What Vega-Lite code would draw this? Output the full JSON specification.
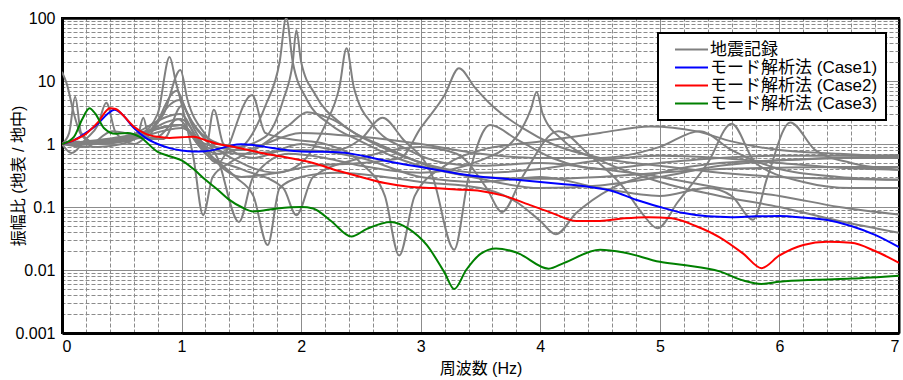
{
"$schema": "https://vega.github.io/schema/vega-lite/v6.json",
"width": 837, "height": 315,
"autosize": {"type": "none"},
"padding": {"left": 62, "top": 18, "right": 4, "bottom": 47},
"config": {
  "view": {"stroke": "#000", "strokeWidth": 2},
  "font": "Liberation Sans, Noto Sans CJK JP",
  "legend": {"strokeWidth": 2, "strokeColor": "#000"},
  "axis": {"labelFont": "Liberation Sans, Noto Sans CJK JP", "titleFont": "Liberation Sans, Noto Sans CJK JP", "labelFontSize": 16, "titleFontSize": 16, "labelColor": "#000", "titleColor": "#000", "titleFontWeight": "normal", "ticks": false, "gridColor": "#8c8c8c", "gridWidth": 1, "gridOpacity": 1}
},
"data": {"values": [
{"series":"地震記録","rec":"G1","freq":0,"amp":1},{"series":"地震記録","rec":"G1","freq":0.1,"amp":1.1},{"series":"地震記録","rec":"G1","freq":0.3,"amp":1.0},{"series":"地震記録","rec":"G1","freq":0.55,"amp":1.2},{"series":"地震記録","rec":"G1","freq":0.8,"amp":1.3},{"series":"地震記録","rec":"G1","freq":0.97,"amp":2.5},{"series":"地震記録","rec":"G1","freq":1.1,"amp":1.3},{"series":"地震記録","rec":"G1","freq":1.3,"amp":0.7},{"series":"地震記録","rec":"G1","freq":1.5,"amp":0.9},{"series":"地震記録","rec":"G1","freq":1.7,"amp":4},{"series":"地震記録","rec":"G1","freq":1.82,"amp":20},{"series":"地震記録","rec":"G1","freq":1.875,"amp":100},{"series":"地震記録","rec":"G1","freq":1.93,"amp":20},{"series":"地震記録","rec":"G1","freq":2.05,"amp":5},{"series":"地震記録","rec":"G1","freq":2.25,"amp":2},{"series":"地震記録","rec":"G1","freq":2.5,"amp":1.1},{"series":"地震記録","rec":"G1","freq":2.8,"amp":0.6},{"series":"地震記録","rec":"G1","freq":3.1,"amp":0.4},{"series":"地震記録","rec":"G1","freq":3.5,"amp":0.3},{"series":"地震記録","rec":"G1","freq":4.0,"amp":0.28},{"series":"地震記録","rec":"G1","freq":4.5,"amp":0.3},{"series":"地震記録","rec":"G1","freq":5.0,"amp":0.35},{"series":"地震記録","rec":"G1","freq":5.5,"amp":0.4},{"series":"地震記録","rec":"G1","freq":6.0,"amp":0.42},{"series":"地震記録","rec":"G1","freq":6.5,"amp":0.43},{"series":"地震記録","rec":"G1","freq":7,"amp":0.43},
{"series":"地震記録","rec":"G2","freq":0,"amp":1},{"series":"地震記録","rec":"G2","freq":0.2,"amp":0.9},{"series":"地震記録","rec":"G2","freq":0.42,"amp":1.6},{"series":"地震記録","rec":"G2","freq":0.7,"amp":1.3},{"series":"地震記録","rec":"G2","freq":0.96,"amp":7},{"series":"地震記録","rec":"G2","freq":1.05,"amp":3},{"series":"地震記録","rec":"G2","freq":1.2,"amp":1.3},{"series":"地震記録","rec":"G2","freq":1.45,"amp":0.9},{"series":"地震記録","rec":"G2","freq":1.7,"amp":1.3},{"series":"地震記録","rec":"G2","freq":1.85,"amp":5},{"series":"地震記録","rec":"G2","freq":1.93,"amp":20},{"series":"地震記録","rec":"G2","freq":1.96,"amp":64},{"series":"地震記録","rec":"G2","freq":2.0,"amp":20},{"series":"地震記録","rec":"G2","freq":2.12,"amp":6},{"series":"地震記録","rec":"G2","freq":2.35,"amp":2},{"series":"地震記録","rec":"G2","freq":2.7,"amp":0.9},{"series":"地震記録","rec":"G2","freq":3.0,"amp":0.5},{"series":"地震記録","rec":"G2","freq":3.5,"amp":0.28},{"series":"地震記録","rec":"G2","freq":4.0,"amp":0.2},{"series":"地震記録","rec":"G2","freq":4.5,"amp":0.22},{"series":"地震記録","rec":"G2","freq":5.0,"amp":0.3},{"series":"地震記録","rec":"G2","freq":5.5,"amp":0.45},{"series":"地震記録","rec":"G2","freq":6.0,"amp":0.55},{"series":"地震記録","rec":"G2","freq":6.5,"amp":0.6},{"series":"地震記録","rec":"G2","freq":7,"amp":0.66},
{"series":"地震記録","rec":"G3","freq":0,"amp":14},{"series":"地震記録","rec":"G3","freq":0.04,"amp":9},{"series":"地震記録","rec":"G3","freq":0.1,"amp":3},{"series":"地震記録","rec":"G3","freq":0.16,"amp":1.4},{"series":"地震記録","rec":"G3","freq":0.25,"amp":1.1},{"series":"地震記録","rec":"G3","freq":0.45,"amp":1.2},{"series":"地震記録","rec":"G3","freq":0.65,"amp":1.4},{"series":"地震記録","rec":"G3","freq":0.8,"amp":3},{"series":"地震記録","rec":"G3","freq":0.9,"amp":24},{"series":"地震記録","rec":"G3","freq":0.95,"amp":10},{"series":"地震記録","rec":"G3","freq":1.02,"amp":3},{"series":"地震記録","rec":"G3","freq":1.1,"amp":0.6},{"series":"地震記録","rec":"G3","freq":1.18,"amp":0.074},{"series":"地震記録","rec":"G3","freq":1.26,"amp":0.3},{"series":"地震記録","rec":"G3","freq":1.4,"amp":0.5},{"series":"地震記録","rec":"G3","freq":1.65,"amp":0.9},{"series":"地震記録","rec":"G3","freq":1.9,"amp":2},{"series":"地震記録","rec":"G3","freq":2.05,"amp":3.2},{"series":"地震記録","rec":"G3","freq":2.25,"amp":2.5},{"series":"地震記録","rec":"G3","freq":2.5,"amp":1.3},{"series":"地震記録","rec":"G3","freq":2.8,"amp":0.7},{"series":"地震記録","rec":"G3","freq":3.1,"amp":0.45},{"series":"地震記録","rec":"G3","freq":3.5,"amp":0.35},{"series":"地震記録","rec":"G3","freq":4.0,"amp":0.4},{"series":"地震記録","rec":"G3","freq":4.5,"amp":0.55},{"series":"地震記録","rec":"G3","freq":5.0,"amp":0.65},{"series":"地震記録","rec":"G3","freq":5.5,"amp":0.6},{"series":"地震記録","rec":"G3","freq":6.0,"amp":0.5},{"series":"地震記録","rec":"G3","freq":6.5,"amp":0.42},{"series":"地震記録","rec":"G3","freq":7,"amp":0.39},
{"series":"地震記録","rec":"G4","freq":0,"amp":1},{"series":"地震記録","rec":"G4","freq":0.06,"amp":1.5},{"series":"地震記録","rec":"G4","freq":0.11,"amp":5.6},{"series":"地震記録","rec":"G4","freq":0.16,"amp":1.5},{"series":"地震記録","rec":"G4","freq":0.3,"amp":1.0},{"series":"地震記録","rec":"G4","freq":0.6,"amp":1.2},{"series":"地震記録","rec":"G4","freq":0.85,"amp":3},{"series":"地震記録","rec":"G4","freq":0.99,"amp":15},{"series":"地震記録","rec":"G4","freq":1.05,"amp":5},{"series":"地震記録","rec":"G4","freq":1.2,"amp":1.4},{"series":"地震記録","rec":"G4","freq":1.5,"amp":0.5},{"series":"地震記録","rec":"G4","freq":1.8,"amp":0.35},{"series":"地震記録","rec":"G4","freq":2.0,"amp":0.5},{"series":"地震記録","rec":"G4","freq":2.2,"amp":2},{"series":"地震記録","rec":"G4","freq":2.32,"amp":8},{"series":"地震記録","rec":"G4","freq":2.38,"amp":33},{"series":"地震記録","rec":"G4","freq":2.44,"amp":8},{"series":"地震記録","rec":"G4","freq":2.6,"amp":2.0},{"series":"地震記録","rec":"G4","freq":2.9,"amp":0.8},{"series":"地震記録","rec":"G4","freq":3.2,"amp":0.5},{"series":"地震記録","rec":"G4","freq":3.5,"amp":0.45},{"series":"地震記録","rec":"G4","freq":4.0,"amp":0.5},{"series":"地震記録","rec":"G4","freq":4.5,"amp":0.4},{"series":"地震記録","rec":"G4","freq":5.0,"amp":0.3},{"series":"地震記録","rec":"G4","freq":5.5,"amp":0.2},{"series":"地震記録","rec":"G4","freq":6.0,"amp":0.15},{"series":"地震記録","rec":"G4","freq":6.5,"amp":0.1},{"series":"地震記録","rec":"G4","freq":7,"amp":0.076},
{"series":"地震記録","rec":"G5","freq":0,"amp":1},{"series":"地震記録","rec":"G5","freq":0.08,"amp":0.72},{"series":"地震記録","rec":"G5","freq":0.2,"amp":1.2},{"series":"地震記録","rec":"G5","freq":0.3,"amp":2},{"series":"地震記録","rec":"G5","freq":0.37,"amp":4.5},{"series":"地震記録","rec":"G5","freq":0.45,"amp":1.5},{"series":"地震記録","rec":"G5","freq":0.6,"amp":1.0},{"series":"地震記録","rec":"G5","freq":0.98,"amp":5},{"series":"地震記録","rec":"G5","freq":1.1,"amp":1.8},{"series":"地震記録","rec":"G5","freq":1.3,"amp":0.5},{"series":"地震記録","rec":"G5","freq":1.5,"amp":0.3},{"series":"地震記録","rec":"G5","freq":1.8,"amp":0.35},{"series":"地震記録","rec":"G5","freq":2.1,"amp":0.45},{"series":"地震記録","rec":"G5","freq":2.5,"amp":0.5},{"series":"地震記録","rec":"G5","freq":2.83,"amp":0.6},{"series":"地震記録","rec":"G5","freq":3.0,"amp":1.8},{"series":"地震記録","rec":"G5","freq":3.2,"amp":6},{"series":"地震記録","rec":"G5","freq":3.32,"amp":16},{"series":"地震記録","rec":"G5","freq":3.45,"amp":8},{"series":"地震記録","rec":"G5","freq":3.6,"amp":4},{"series":"地震記録","rec":"G5","freq":3.85,"amp":1.8},{"series":"地震記録","rec":"G5","freq":4.1,"amp":1.0},{"series":"地震記録","rec":"G5","freq":4.5,"amp":0.6},{"series":"地震記録","rec":"G5","freq":5.0,"amp":0.45},{"series":"地震記録","rec":"G5","freq":5.5,"amp":0.35},{"series":"地震記録","rec":"G5","freq":6.0,"amp":0.3},{"series":"地震記録","rec":"G5","freq":6.5,"amp":0.28},{"series":"地震記録","rec":"G5","freq":7,"amp":0.27},
{"series":"地震記録","rec":"G6","freq":0,"amp":1},{"series":"地震記録","rec":"G6","freq":0.3,"amp":0.9},{"series":"地震記録","rec":"G6","freq":0.5,"amp":1.0},{"series":"地震記録","rec":"G6","freq":0.63,"amp":1.3},{"series":"地震記録","rec":"G6","freq":0.68,"amp":2.6},{"series":"地震記録","rec":"G6","freq":0.73,"amp":1.2},{"series":"地震記録","rec":"G6","freq":0.85,"amp":1.2},{"series":"地震記録","rec":"G6","freq":1.0,"amp":4},{"series":"地震記録","rec":"G6","freq":1.1,"amp":2},{"series":"地震記録","rec":"G6","freq":1.3,"amp":0.6},{"series":"地震記録","rec":"G6","freq":1.48,"amp":0.058},{"series":"地震記録","rec":"G6","freq":1.6,"amp":0.3},{"series":"地震記録","rec":"G6","freq":1.9,"amp":0.7},{"series":"地震記録","rec":"G6","freq":2.2,"amp":0.6},{"series":"地震記録","rec":"G6","freq":2.5,"amp":0.45},{"series":"地震記録","rec":"G6","freq":3.0,"amp":0.35},{"series":"地震記録","rec":"G6","freq":3.5,"amp":0.55},{"series":"地震記録","rec":"G6","freq":3.8,"amp":1.3},{"series":"地震記録","rec":"G6","freq":3.92,"amp":3.5},{"series":"地震記録","rec":"G6","freq":3.97,"amp":6.7},{"series":"地震記録","rec":"G6","freq":4.02,"amp":3},{"series":"地震記録","rec":"G6","freq":4.2,"amp":1.1},{"series":"地震記録","rec":"G6","freq":4.5,"amp":0.55},{"series":"地震記録","rec":"G6","freq":5.0,"amp":0.25},{"series":"地震記録","rec":"G6","freq":5.5,"amp":0.15},{"series":"地震記録","rec":"G6","freq":6.0,"amp":0.1},{"series":"地震記録","rec":"G6","freq":6.5,"amp":0.06},{"series":"地震記録","rec":"G6","freq":7,"amp":0.039},
{"series":"地震記録","rec":"G7","freq":0,"amp":1},{"series":"地震記録","rec":"G7","freq":0.2,"amp":1.0},{"series":"地震記録","rec":"G7","freq":0.5,"amp":1.2},{"series":"地震記録","rec":"G7","freq":0.99,"amp":3},{"series":"地震記録","rec":"G7","freq":1.15,"amp":1.0},{"series":"地震記録","rec":"G7","freq":1.3,"amp":0.5},{"series":"地震記録","rec":"G7","freq":1.59,"amp":6},{"series":"地震記録","rec":"G7","freq":1.7,"amp":1.5},{"series":"地震記録","rec":"G7","freq":1.9,"amp":1.2},{"series":"地震記録","rec":"G7","freq":2.2,"amp":1.0},{"series":"地震記録","rec":"G7","freq":2.5,"amp":0.5},{"series":"地震記録","rec":"G7","freq":2.7,"amp":0.15},{"series":"地震記録","rec":"G7","freq":2.82,"amp":0.017},{"series":"地震記録","rec":"G7","freq":2.95,"amp":0.15},{"series":"地震記録","rec":"G7","freq":3.2,"amp":0.45},{"series":"地震記録","rec":"G7","freq":3.5,"amp":0.8},{"series":"地震記録","rec":"G7","freq":4.0,"amp":1.1},{"series":"地震記録","rec":"G7","freq":4.5,"amp":1.5},{"series":"地震記録","rec":"G7","freq":4.92,"amp":1.9},{"series":"地震記録","rec":"G7","freq":5.3,"amp":1.6},{"series":"地震記録","rec":"G7","freq":5.6,"amp":1.1},{"series":"地震記録","rec":"G7","freq":6.0,"amp":0.8},{"series":"地震記録","rec":"G7","freq":6.5,"amp":0.7},{"series":"地震記録","rec":"G7","freq":7,"amp":0.62},
{"series":"地震記録","rec":"G8","freq":0,"amp":1},{"series":"地震記録","rec":"G8","freq":0.5,"amp":1.3},{"series":"地震記録","rec":"G8","freq":0.99,"amp":2},{"series":"地震記録","rec":"G8","freq":1.2,"amp":0.8},{"series":"地震記録","rec":"G8","freq":1.27,"amp":3.5},{"series":"地震記録","rec":"G8","freq":1.35,"amp":1.0},{"series":"地震記録","rec":"G8","freq":1.6,"amp":0.6},{"series":"地震記録","rec":"G8","freq":2.0,"amp":1.0},{"series":"地震記録","rec":"G8","freq":2.3,"amp":0.8},{"series":"地震記録","rec":"G8","freq":2.5,"amp":1.2},{"series":"地震記録","rec":"G8","freq":2.68,"amp":2.6},{"series":"地震記録","rec":"G8","freq":2.85,"amp":1.2},{"series":"地震記録","rec":"G8","freq":3.1,"amp":0.3},{"series":"地震記録","rec":"G8","freq":3.28,"amp":0.021},{"series":"地震記録","rec":"G8","freq":3.4,"amp":0.3},{"series":"地震記録","rec":"G8","freq":3.58,"amp":2.0},{"series":"地震記録","rec":"G8","freq":3.8,"amp":1.2},{"series":"地震記録","rec":"G8","freq":4.1,"amp":0.6},{"series":"地震記録","rec":"G8","freq":4.5,"amp":0.4},{"series":"地震記録","rec":"G8","freq":5.0,"amp":0.5},{"series":"地震記録","rec":"G8","freq":5.5,"amp":0.6},{"series":"地震記録","rec":"G8","freq":6.0,"amp":0.65},{"series":"地震記録","rec":"G8","freq":6.5,"amp":0.65},{"series":"地震記録","rec":"G8","freq":7,"amp":0.66},
{"series":"地震記録","rec":"G9","freq":0,"amp":1},{"series":"地震記録","rec":"G9","freq":0.3,"amp":1.1},{"series":"地震記録","rec":"G9","freq":0.6,"amp":1.3},{"series":"地震記録","rec":"G9","freq":0.99,"amp":2.5},{"series":"地震記録","rec":"G9","freq":1.2,"amp":0.8},{"series":"地震記録","rec":"G9","freq":1.45,"amp":0.3},{"series":"地震記録","rec":"G9","freq":1.6,"amp":0.15},{"series":"地震記録","rec":"G9","freq":1.72,"amp":0.025},{"series":"地震記録","rec":"G9","freq":1.82,"amp":0.2},{"series":"地震記録","rec":"G9","freq":2.0,"amp":0.3},{"series":"地震記録","rec":"G9","freq":2.3,"amp":0.35},{"series":"地震記録","rec":"G9","freq":2.7,"amp":0.3},{"series":"地震記録","rec":"G9","freq":3.0,"amp":0.25},{"series":"地震記録","rec":"G9","freq":3.5,"amp":0.2},{"series":"地震記録","rec":"G9","freq":3.8,"amp":0.12},{"series":"地震記録","rec":"G9","freq":4.0,"amp":0.06},{"series":"地震記録","rec":"G9","freq":4.13,"amp":0.037},{"series":"地震記録","rec":"G9","freq":4.3,"amp":0.08},{"series":"地震記録","rec":"G9","freq":4.6,"amp":0.2},{"series":"地震記録","rec":"G9","freq":5.0,"amp":0.35},{"series":"地震記録","rec":"G9","freq":5.5,"amp":0.5},{"series":"地震記録","rec":"G9","freq":6.0,"amp":0.55},{"series":"地震記録","rec":"G9","freq":6.5,"amp":0.6},{"series":"地震記録","rec":"G9","freq":7,"amp":0.6},
{"series":"地震記録","rec":"G10","freq":0,"amp":1},{"series":"地震記録","rec":"G10","freq":0.4,"amp":1.1},{"series":"地震記録","rec":"G10","freq":0.99,"amp":2},{"series":"地震記録","rec":"G10","freq":1.2,"amp":0.7},{"series":"地震記録","rec":"G10","freq":1.5,"amp":0.4},{"series":"地震記録","rec":"G10","freq":1.85,"amp":0.2},{"series":"地震記録","rec":"G10","freq":1.96,"amp":0.074},{"series":"地震記録","rec":"G10","freq":2.1,"amp":0.3},{"series":"地震記録","rec":"G10","freq":2.5,"amp":0.6},{"series":"地震記録","rec":"G10","freq":3.0,"amp":0.9},{"series":"地震記録","rec":"G10","freq":3.3,"amp":0.7},{"series":"地震記録","rec":"G10","freq":3.55,"amp":0.2},{"series":"地震記録","rec":"G10","freq":3.68,"amp":0.083},{"series":"地震記録","rec":"G10","freq":3.85,"amp":0.3},{"series":"地震記録","rec":"G10","freq":4.15,"amp":1.6},{"series":"地震記録","rec":"G10","freq":4.4,"amp":0.7},{"series":"地震記録","rec":"G10","freq":4.7,"amp":0.2},{"series":"地震記録","rec":"G10","freq":4.85,"amp":0.08},{"series":"地震記録","rec":"G10","freq":4.98,"amp":0.046},{"series":"地震記録","rec":"G10","freq":5.15,"amp":0.12},{"series":"地震記録","rec":"G10","freq":5.4,"amp":0.5},{"series":"地震記録","rec":"G10","freq":5.6,"amp":2.1},{"series":"地震記録","rec":"G10","freq":5.8,"amp":0.5},{"series":"地震記録","rec":"G10","freq":6.2,"amp":0.25},{"series":"地震記録","rec":"G10","freq":6.6,"amp":0.2},{"series":"地震記録","rec":"G10","freq":7,"amp":0.2},
{"series":"地震記録","rec":"G11","freq":0,"amp":1},{"series":"地震記録","rec":"G11","freq":0.5,"amp":1.2},{"series":"地震記録","rec":"G11","freq":0.99,"amp":2},{"series":"地震記録","rec":"G11","freq":1.2,"amp":0.9},{"series":"地震記録","rec":"G11","freq":1.5,"amp":0.7},{"series":"地震記録","rec":"G11","freq":2.0,"amp":0.8},{"series":"地震記録","rec":"G11","freq":2.5,"amp":0.6},{"series":"地震記録","rec":"G11","freq":3.0,"amp":0.3},{"series":"地震記録","rec":"G11","freq":3.5,"amp":0.25},{"series":"地震記録","rec":"G11","freq":4.0,"amp":0.3},{"series":"地震記録","rec":"G11","freq":4.5,"amp":0.2},{"series":"地震記録","rec":"G11","freq":5.0,"amp":0.15},{"series":"地震記録","rec":"G11","freq":5.4,"amp":0.2},{"series":"地震記録","rec":"G11","freq":5.6,"amp":0.15},{"series":"地震記録","rec":"G11","freq":5.78,"amp":0.063},{"series":"地震記録","rec":"G11","freq":5.9,"amp":0.3},{"series":"地震記録","rec":"G11","freq":6.09,"amp":2.2},{"series":"地震記録","rec":"G11","freq":6.3,"amp":0.8},{"series":"地震記録","rec":"G11","freq":6.6,"amp":0.5},{"series":"地震記録","rec":"G11","freq":7,"amp":0.39},
{"series":"地震記録","rec":"G12","freq":0,"amp":1},{"series":"地震記録","rec":"G12","freq":0.5,"amp":1.1},{"series":"地震記録","rec":"G12","freq":1.0,"amp":1.8},{"series":"地震記録","rec":"G12","freq":1.2,"amp":1.0},{"series":"地震記録","rec":"G12","freq":1.5,"amp":0.8},{"series":"地震記録","rec":"G12","freq":2.0,"amp":1.5},{"series":"地震記録","rec":"G12","freq":2.5,"amp":1.3},{"series":"地震記録","rec":"G12","freq":3.0,"amp":1.0},{"series":"地震記録","rec":"G12","freq":3.5,"amp":0.7},{"series":"地震記録","rec":"G12","freq":4.0,"amp":0.6},{"series":"地震記録","rec":"G12","freq":4.5,"amp":0.6},{"series":"地震記録","rec":"G12","freq":5.0,"amp":0.9},{"series":"地震記録","rec":"G12","freq":5.33,"amp":1.6},{"series":"地震記録","rec":"G12","freq":5.6,"amp":0.8},{"series":"地震記録","rec":"G12","freq":6.0,"amp":0.4},{"series":"地震記録","rec":"G12","freq":6.5,"amp":0.3},{"series":"地震記録","rec":"G12","freq":7,"amp":0.27},
{"series":"モード解析法 (Case1)","rec":"B","freq":0,"amp":1},{"series":"モード解析法 (Case1)","rec":"B","freq":0.1,"amp":1.15},{"series":"モード解析法 (Case1)","rec":"B","freq":0.2,"amp":1.5},{"series":"モード解析法 (Case1)","rec":"B","freq":0.3,"amp":2.1},{"series":"モード解析法 (Case1)","rec":"B","freq":0.38,"amp":3.0},{"series":"モード解析法 (Case1)","rec":"B","freq":0.44,"amp":3.5},{"series":"モード解析法 (Case1)","rec":"B","freq":0.5,"amp":3.0},{"series":"モード解析法 (Case1)","rec":"B","freq":0.6,"amp":1.8},{"series":"モード解析法 (Case1)","rec":"B","freq":0.7,"amp":1.25},{"series":"モード解析法 (Case1)","rec":"B","freq":0.8,"amp":1.0},{"series":"モード解析法 (Case1)","rec":"B","freq":0.9,"amp":0.86},{"series":"モード解析法 (Case1)","rec":"B","freq":1.0,"amp":0.79},{"series":"モード解析法 (Case1)","rec":"B","freq":1.1,"amp":0.76},{"series":"モード解析法 (Case1)","rec":"B","freq":1.2,"amp":0.77},{"series":"モード解析法 (Case1)","rec":"B","freq":1.3,"amp":0.83},{"series":"モード解析法 (Case1)","rec":"B","freq":1.4,"amp":0.93},{"series":"モード解析法 (Case1)","rec":"B","freq":1.5,"amp":0.99},{"series":"モード解析法 (Case1)","rec":"B","freq":1.6,"amp":0.96},{"series":"モード解析法 (Case1)","rec":"B","freq":1.7,"amp":0.9},{"series":"モード解析法 (Case1)","rec":"B","freq":1.85,"amp":0.81},{"series":"モード解析法 (Case1)","rec":"B","freq":2.0,"amp":0.76},{"series":"モード解析法 (Case1)","rec":"B","freq":2.2,"amp":0.75},{"series":"モード解析法 (Case1)","rec":"B","freq":2.4,"amp":0.71},{"series":"モード解析法 (Case1)","rec":"B","freq":2.6,"amp":0.6},{"series":"モード解析法 (Case1)","rec":"B","freq":2.8,"amp":0.5},{"series":"モード解析法 (Case1)","rec":"B","freq":3.0,"amp":0.43},{"series":"モード解析法 (Case1)","rec":"B","freq":3.2,"amp":0.37},{"series":"モード解析法 (Case1)","rec":"B","freq":3.4,"amp":0.32},{"series":"モード解析法 (Case1)","rec":"B","freq":3.6,"amp":0.29},{"series":"モード解析法 (Case1)","rec":"B","freq":3.8,"amp":0.27},{"series":"モード解析法 (Case1)","rec":"B","freq":4.0,"amp":0.25},{"series":"モード解析法 (Case1)","rec":"B","freq":4.2,"amp":0.23},{"series":"モード解析法 (Case1)","rec":"B","freq":4.4,"amp":0.21},{"series":"モード解析法 (Case1)","rec":"B","freq":4.6,"amp":0.18},{"series":"モード解析法 (Case1)","rec":"B","freq":4.8,"amp":0.13},{"series":"モード解析法 (Case1)","rec":"B","freq":5.0,"amp":0.1},{"series":"モード解析法 (Case1)","rec":"B","freq":5.2,"amp":0.08},{"series":"モード解析法 (Case1)","rec":"B","freq":5.4,"amp":0.071},{"series":"モード解析法 (Case1)","rec":"B","freq":5.6,"amp":0.069},{"series":"モード解析法 (Case1)","rec":"B","freq":5.8,"amp":0.071},{"series":"モード解析法 (Case1)","rec":"B","freq":6.0,"amp":0.072},{"series":"モード解析法 (Case1)","rec":"B","freq":6.2,"amp":0.068},{"series":"モード解析法 (Case1)","rec":"B","freq":6.4,"amp":0.062},{"series":"モード解析法 (Case1)","rec":"B","freq":6.6,"amp":0.05},{"series":"モード解析法 (Case1)","rec":"B","freq":6.8,"amp":0.036},{"series":"モード解析法 (Case1)","rec":"B","freq":7.0,"amp":0.023},
{"series":"モード解析法 (Case2)","rec":"R","freq":0,"amp":1},{"series":"モード解析法 (Case2)","rec":"R","freq":0.1,"amp":1.15},{"series":"モード解析法 (Case2)","rec":"R","freq":0.2,"amp":1.45},{"series":"モード解析法 (Case2)","rec":"R","freq":0.3,"amp":2.2},{"series":"モード解析法 (Case2)","rec":"R","freq":0.4,"amp":3.7},{"series":"モード解析法 (Case2)","rec":"R","freq":0.45,"amp":3.6},{"series":"モード解析法 (Case2)","rec":"R","freq":0.5,"amp":3.0},{"series":"モード解析法 (Case2)","rec":"R","freq":0.6,"amp":1.9},{"series":"モード解析法 (Case2)","rec":"R","freq":0.7,"amp":1.45},{"series":"モード解析法 (Case2)","rec":"R","freq":0.8,"amp":1.3},{"series":"モード解析法 (Case2)","rec":"R","freq":0.9,"amp":1.25},{"series":"モード解析法 (Case2)","rec":"R","freq":1.0,"amp":1.28},{"series":"モード解析法 (Case2)","rec":"R","freq":1.1,"amp":1.3},{"series":"モード解析法 (Case2)","rec":"R","freq":1.2,"amp":1.15},{"series":"モード解析法 (Case2)","rec":"R","freq":1.3,"amp":1.0},{"series":"モード解析法 (Case2)","rec":"R","freq":1.4,"amp":0.93},{"series":"モード解析法 (Case2)","rec":"R","freq":1.5,"amp":0.85},{"series":"モード解析法 (Case2)","rec":"R","freq":1.7,"amp":0.7},{"series":"モード解析法 (Case2)","rec":"R","freq":1.9,"amp":0.6},{"series":"モード解析法 (Case2)","rec":"R","freq":2.1,"amp":0.5},{"series":"モード解析法 (Case2)","rec":"R","freq":2.3,"amp":0.38},{"series":"モード解析法 (Case2)","rec":"R","freq":2.5,"amp":0.3},{"series":"モード解析法 (Case2)","rec":"R","freq":2.7,"amp":0.24},{"series":"モード解析法 (Case2)","rec":"R","freq":2.9,"amp":0.21},{"series":"モード解析法 (Case2)","rec":"R","freq":3.1,"amp":0.2},{"series":"モード解析法 (Case2)","rec":"R","freq":3.3,"amp":0.19},{"series":"モード解析法 (Case2)","rec":"R","freq":3.5,"amp":0.18},{"series":"モード解析法 (Case2)","rec":"R","freq":3.7,"amp":0.15},{"series":"モード解析法 (Case2)","rec":"R","freq":3.9,"amp":0.11},{"series":"モード解析法 (Case2)","rec":"R","freq":4.1,"amp":0.08},{"series":"モード解析法 (Case2)","rec":"R","freq":4.3,"amp":0.06},{"series":"モード解析法 (Case2)","rec":"R","freq":4.5,"amp":0.06},{"series":"モード解析法 (Case2)","rec":"R","freq":4.7,"amp":0.066},{"series":"モード解析法 (Case2)","rec":"R","freq":4.9,"amp":0.069},{"series":"モード解析法 (Case2)","rec":"R","freq":5.1,"amp":0.066},{"series":"モード解析法 (Case2)","rec":"R","freq":5.3,"amp":0.05},{"series":"モード解析法 (Case2)","rec":"R","freq":5.5,"amp":0.033},{"series":"モード解析法 (Case2)","rec":"R","freq":5.7,"amp":0.018},{"series":"モード解析法 (Case2)","rec":"R","freq":5.85,"amp":0.0107},{"series":"モード解析法 (Case2)","rec":"R","freq":6.0,"amp":0.017},{"series":"モード解析法 (Case2)","rec":"R","freq":6.2,"amp":0.025},{"series":"モード解析法 (Case2)","rec":"R","freq":6.4,"amp":0.028},{"series":"モード解析法 (Case2)","rec":"R","freq":6.6,"amp":0.027},{"series":"モード解析法 (Case2)","rec":"R","freq":6.8,"amp":0.02},{"series":"モード解析法 (Case2)","rec":"R","freq":7.0,"amp":0.013},
{"series":"モード解析法 (Case3)","rec":"Gr","freq":0,"amp":1},{"series":"モード解析法 (Case3)","rec":"Gr","freq":0.1,"amp":1.3},{"series":"モード解析法 (Case3)","rec":"Gr","freq":0.17,"amp":2.5},{"series":"モード解析法 (Case3)","rec":"Gr","freq":0.23,"amp":3.7},{"series":"モード解析法 (Case3)","rec":"Gr","freq":0.28,"amp":3.0},{"series":"モード解析法 (Case3)","rec":"Gr","freq":0.35,"amp":1.8},{"series":"モード解析法 (Case3)","rec":"Gr","freq":0.45,"amp":1.45},{"series":"モード解析法 (Case3)","rec":"Gr","freq":0.55,"amp":1.5},{"series":"モード解析法 (Case3)","rec":"Gr","freq":0.65,"amp":1.3},{"series":"モード解析法 (Case3)","rec":"Gr","freq":0.8,"amp":0.75},{"series":"モード解析法 (Case3)","rec":"Gr","freq":0.9,"amp":0.64},{"series":"モード解析法 (Case3)","rec":"Gr","freq":1.0,"amp":0.55},{"series":"モード解析法 (Case3)","rec":"Gr","freq":1.1,"amp":0.4},{"series":"モード解析法 (Case3)","rec":"Gr","freq":1.2,"amp":0.27},{"series":"モード解析法 (Case3)","rec":"Gr","freq":1.3,"amp":0.19},{"series":"モード解析法 (Case3)","rec":"Gr","freq":1.4,"amp":0.13},{"series":"モード解析法 (Case3)","rec":"Gr","freq":1.5,"amp":0.1},{"series":"モード解析法 (Case3)","rec":"Gr","freq":1.6,"amp":0.085},{"series":"モード解析法 (Case3)","rec":"Gr","freq":1.8,"amp":0.095},{"series":"モード解析法 (Case3)","rec":"Gr","freq":2.0,"amp":0.1},{"series":"モード解析法 (Case3)","rec":"Gr","freq":2.1,"amp":0.095},{"series":"モード解析法 (Case3)","rec":"Gr","freq":2.25,"amp":0.06},{"series":"モード解析法 (Case3)","rec":"Gr","freq":2.42,"amp":0.034},{"series":"モード解析法 (Case3)","rec":"Gr","freq":2.55,"amp":0.045},{"series":"モード解析法 (Case3)","rec":"Gr","freq":2.75,"amp":0.058},{"series":"モード解析法 (Case3)","rec":"Gr","freq":2.9,"amp":0.045},{"series":"モード解析法 (Case3)","rec":"Gr","freq":3.05,"amp":0.025},{"series":"モード解析法 (Case3)","rec":"Gr","freq":3.2,"amp":0.009},{"series":"モード解析法 (Case3)","rec":"Gr","freq":3.28,"amp":0.005},{"series":"モード解析法 (Case3)","rec":"Gr","freq":3.38,"amp":0.01},{"series":"モード解析法 (Case3)","rec":"Gr","freq":3.5,"amp":0.018},{"series":"モード解析法 (Case3)","rec":"Gr","freq":3.63,"amp":0.022},{"series":"モード解析法 (Case3)","rec":"Gr","freq":3.8,"amp":0.019},{"series":"モード解析法 (Case3)","rec":"Gr","freq":4.07,"amp":0.0105},{"series":"モード解析法 (Case3)","rec":"Gr","freq":4.2,"amp":0.013},{"series":"モード解析法 (Case3)","rec":"Gr","freq":4.5,"amp":0.021},{"series":"モード解析法 (Case3)","rec":"Gr","freq":4.7,"amp":0.019},{"series":"モード解析法 (Case3)","rec":"Gr","freq":5.0,"amp":0.0135},{"series":"モード解析法 (Case3)","rec":"Gr","freq":5.2,"amp":0.012},{"series":"モード解析法 (Case3)","rec":"Gr","freq":5.5,"amp":0.0095},{"series":"モード解析法 (Case3)","rec":"Gr","freq":5.7,"amp":0.0068},{"series":"モード解析法 (Case3)","rec":"Gr","freq":5.85,"amp":0.006},{"series":"モード解析法 (Case3)","rec":"Gr","freq":6.0,"amp":0.0065},{"series":"モード解析法 (Case3)","rec":"Gr","freq":6.3,"amp":0.007},{"series":"モード解析法 (Case3)","rec":"Gr","freq":6.6,"amp":0.0073},{"series":"モード解析法 (Case3)","rec":"Gr","freq":7.0,"amp":0.0081}
]},
"resolve": {"axis": {"x": "independent", "y": "independent"}},
"layer": [
{
  "transform": [{"filter": "datum.series === '地震記録'"}],
  "mark": {"type": "line", "interpolate": "monotone", "strokeWidth": 2, "clip": true},
  "encoding": {
    "x": {"field": "freq", "type": "quantitative", "scale": {"domain": [0, 7], "nice": false, "zero": false},
      "axis": {"orient": "top", "values": [0.2,0.4,0.6,0.8,1.2,1.4,1.6,1.8,2.2,2.4,2.6,2.8,3.2,3.4,3.6,3.8,4.2,4.4,4.6,4.8,5.2,5.4,5.6,5.8,6.2,6.4,6.6,6.8], "grid": true, "gridDash": [4, 2], "labels": false, "ticks": false, "domain": true, "domainColor": "#000", "domainWidth": 2.5, "title": null}},
    "y": {"field": "amp", "type": "quantitative", "scale": {"type": "log", "domain": [0.001, 100], "nice": false},
      "axis": {"orient": "right", "values": [0.002,0.003,0.004,0.005,0.006,0.007,0.008,0.009,0.02,0.03,0.04,0.05,0.06,0.07,0.08,0.09,0.2,0.3,0.4,0.5,0.6,0.7,0.8,0.9,2,3,4,5,6,7,8,9,20,30,40,50,60,70,80,90], "grid": true, "gridDash": [4, 2], "labels": false, "ticks": false, "domain": true, "domainColor": "#000", "domainWidth": 2, "title": null}},
    "detail": {"field": "rec"},
    "color": {"field": "series", "type": "nominal",
      "scale": {"domain": ["地震記録", "モード解析法 (Case1)", "モード解析法 (Case2)", "モード解析法 (Case3)"], "range": ["#808080", "#0000ff", "#ff0000", "#008000"]},
      "legend": {"title": null, "orient": "none", "legendX": 596, "legendY": 15, "symbolType": "stroke", "symbolSize": 1089, "symbolStrokeWidth": 2, "symbolOffset": 8, "labelFontSize": 17, "labelFont": "Liberation Sans, Noto Sans CJK JP", "labelColor": "#000", "labelOffset": 1, "rowPadding": 0, "clipHeight": 17, "padding": 8, "strokeColor": "#000", "fillColor": "#fff", "labelLimit": 400}}
  }
},
{
  "transform": [{"filter": "datum.series !== '地震記録'"}],
  "mark": {"type": "line", "interpolate": "monotone", "strokeWidth": 2, "clip": true},
  "encoding": {
    "x": {"field": "freq", "type": "quantitative",
      "axis": {"orient": "bottom", "values": [0,1,2,3,4,5,6,7], "grid": true, "labelPadding": 5, "domainColor": "#000", "domainWidth": 3, "title": "周波数 (Hz)", "titlePadding": 6}},
    "y": {"field": "amp", "type": "quantitative",
      "axis": {"orient": "left", "values": [0.001,0.01,0.1,1,10,100], "format": "~g", "grid": true, "labelPadding": 7, "domainColor": "#000", "domainWidth": 3, "title": "振幅比 (地表 / 地中)", "titleX": -44, "titleBaseline": "middle"}},
    "detail": {"field": "rec"},
    "color": {"field": "series", "type": "nominal"}
  }
}
]
}
